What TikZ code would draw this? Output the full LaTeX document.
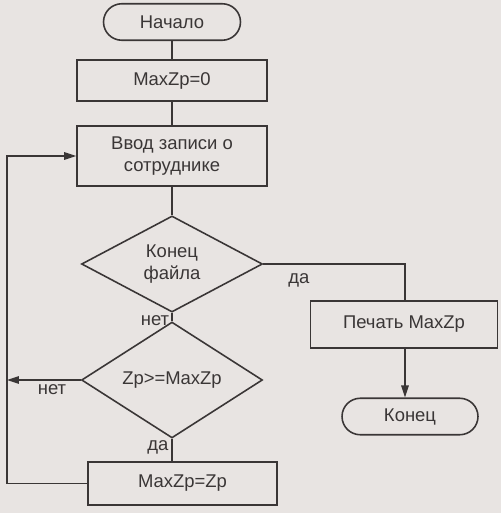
\documentclass[tikz,border=0pt]{standalone}
\usepackage{fontspec}
\setmainfont{Liberation Sans}
\usetikzlibrary{arrows.meta,positioning,shapes.geometric,shapes.misc}
\definecolor{paper}{RGB}{232,228,226}
\definecolor{ink}{RGB}{58,54,54}
\tikzset{
  >={Triangle[length=2.4mm,width=1.5mm]},
  base/.style={draw=ink,line width=0.9pt,text=ink,align=center,
    font=\fontsize{10.5}{13}\selectfont,inner sep=0pt},
  term/.style={base,rounded rectangle,minimum width=#1,minimum height=7.3mm},
  term/.default=27.4mm,
  proc/.style={base,rectangle,minimum width=3.8cm,minimum height=#1},
  proc/.default=8.2mm,
  cond/.style={base,diamond,minimum width=3.62cm,minimum height=1.8cm},
  flow/.style={draw=ink,line width=0.9pt},
  tag/.style={text=ink,font=\fontsize{10.5}{13}\selectfont},
}
\begin{document}
\begin{tikzpicture}[x=0.02cm,y=-0.02cm]
  \fill[paper] (0,0) rectangle (501,513);
  \useasboundingbox (0,0) rectangle (501,513);
  % main column
  \node[term] (start) at (172,22) {Начало};
  \node[proc] (init) at (172,80.5) {MaxZp=0};
  \node[proc=12mm] (input) at (172,156) {Ввод записи о\\сотруднике};
  \node[cond] (eof) at (172,264) {Конец\\файла};
  \node[cond] (cmp) at (172,380) {Zp>=MaxZp};
  \node[proc=8.6mm,minimum width=3.78cm] (setmax) at (182.5,483.5) {MaxZp=Zp};
  % right branch
  \node[proc=9.4mm,minimum width=3.74cm] (print) at (404,324.5) {Печать MaxZp};
  \node[term=27.2mm] (stop) at (410,416.5) {Конец};
  \coordinate (rail) at (7,300);
  % connectors
  \draw[flow] (start) -- (init);
  \draw[flow] (init) -- (input);
  \draw[flow] (input) -- (eof);
  \draw[flow] (eof) -- (cmp);
  \draw[flow] (eof.east) -| (print.north -| 405,0);
  \draw[flow,->] (print.south -| 405,0) -- (stop.north -| 405,0);
  \draw[flow] (cmp.south) -- (cmp.south |- setmax.north);
  \draw[flow,->] (cmp.west) -- (cmp.west -| rail);
  \draw[flow,->] (setmax.west) -| (rail) |- (input.west);
  % labels
  \node[tag] (yes1) at (299,280) {да};
  \node[tag] (no1) at (155,321) {нет};
  \node[tag] (no2) at (52,390) {нет};
  \node[tag] (yes2) at (158,447) {да};
\end{tikzpicture}
\end{document}
